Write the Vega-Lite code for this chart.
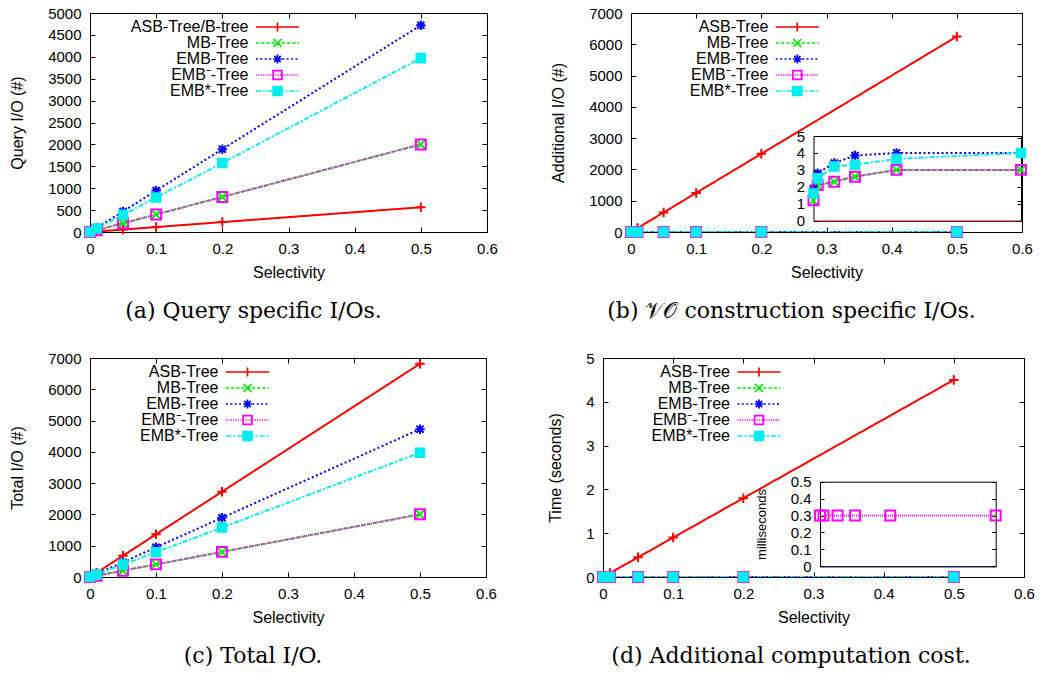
{
  "$schema": "https://vega.github.io/schema/vega-lite/v6.json",
  "padding": {"left": 9, "top": 5, "right": 5, "bottom": 5},
  "config": {
    "view": {"stroke": "black", "strokeWidth": 1},
    "axis": {"grid": false, "domainColor": "black", "tickColor": "black", "labelColor": "black", "titleColor": "black", "labelFont": "Liberation Sans", "labelFontSize": 15, "titleFont": "Liberation Sans", "titleFontSize": 16, "titleFontWeight": "normal", "tickSize": -5, "labelPadding": 14, "labelFlush": false, "labelOverlap": false},
    "title": {"font": "DejaVu Serif", "fontSize": 22, "fontWeight": "normal", "color": "black"},
    "point": {"opacity": 1}
  },
  "datasets": {
    "a": [
      {"s": "ASB-Tree/B-tree", "x": 0, "y": 1}, {"s": "ASB-Tree/B-tree", "x": 0.01, "y": 11}, {"s": "ASB-Tree/B-tree", "x": 0.05, "y": 56}, {"s": "ASB-Tree/B-tree", "x": 0.1, "y": 113}, {"s": "ASB-Tree/B-tree", "x": 0.2, "y": 226}, {"s": "ASB-Tree/B-tree", "x": 0.5, "y": 565},
      {"s": "MB-Tree", "x": 0, "y": 1}, {"s": "MB-Tree", "x": 0.01, "y": 40}, {"s": "MB-Tree", "x": 0.05, "y": 200}, {"s": "MB-Tree", "x": 0.1, "y": 400}, {"s": "MB-Tree", "x": 0.2, "y": 800}, {"s": "MB-Tree", "x": 0.5, "y": 2000},
      {"s": "EMB-Tree", "x": 0, "y": 2}, {"s": "EMB-Tree", "x": 0.01, "y": 95}, {"s": "EMB-Tree", "x": 0.05, "y": 470}, {"s": "EMB-Tree", "x": 0.1, "y": 945}, {"s": "EMB-Tree", "x": 0.2, "y": 1890}, {"s": "EMB-Tree", "x": 0.5, "y": 4720},
      {"s": "EMB⁻-Tree", "x": 0, "y": 1}, {"s": "EMB⁻-Tree", "x": 0.01, "y": 40}, {"s": "EMB⁻-Tree", "x": 0.05, "y": 200}, {"s": "EMB⁻-Tree", "x": 0.1, "y": 400}, {"s": "EMB⁻-Tree", "x": 0.2, "y": 800}, {"s": "EMB⁻-Tree", "x": 0.5, "y": 2000},
      {"s": "EMB*-Tree", "x": 0, "y": 2}, {"s": "EMB*-Tree", "x": 0.01, "y": 80}, {"s": "EMB*-Tree", "x": 0.05, "y": 395}, {"s": "EMB*-Tree", "x": 0.1, "y": 790}, {"s": "EMB*-Tree", "x": 0.2, "y": 1575}, {"s": "EMB*-Tree", "x": 0.5, "y": 3970}
    ],
    "b": [
      {"s": "ASB-Tree", "x": 0.01, "y": 125}, {"s": "ASB-Tree", "x": 0.05, "y": 625}, {"s": "ASB-Tree", "x": 0.1, "y": 1250}, {"s": "ASB-Tree", "x": 0.2, "y": 2500}, {"s": "ASB-Tree", "x": 0.5, "y": 6250},
      {"s": "MB-Tree", "x": 0, "y": 1.2}, {"s": "MB-Tree", "x": 0.01, "y": 2.1}, {"s": "MB-Tree", "x": 0.05, "y": 2.3}, {"s": "MB-Tree", "x": 0.1, "y": 2.6}, {"s": "MB-Tree", "x": 0.2, "y": 3}, {"s": "MB-Tree", "x": 0.5, "y": 3},
      {"s": "EMB-Tree", "x": 0, "y": 1.9}, {"s": "EMB-Tree", "x": 0.01, "y": 2.8}, {"s": "EMB-Tree", "x": 0.05, "y": 3.4}, {"s": "EMB-Tree", "x": 0.1, "y": 3.85}, {"s": "EMB-Tree", "x": 0.2, "y": 4}, {"s": "EMB-Tree", "x": 0.5, "y": 4},
      {"s": "EMB⁻-Tree", "x": 0, "y": 1.2}, {"s": "EMB⁻-Tree", "x": 0.01, "y": 2.1}, {"s": "EMB⁻-Tree", "x": 0.05, "y": 2.3}, {"s": "EMB⁻-Tree", "x": 0.1, "y": 2.6}, {"s": "EMB⁻-Tree", "x": 0.2, "y": 3}, {"s": "EMB⁻-Tree", "x": 0.5, "y": 3},
      {"s": "EMB*-Tree", "x": 0, "y": 1.6}, {"s": "EMB*-Tree", "x": 0.01, "y": 2.5}, {"s": "EMB*-Tree", "x": 0.05, "y": 3.2}, {"s": "EMB*-Tree", "x": 0.1, "y": 3.3}, {"s": "EMB*-Tree", "x": 0.2, "y": 3.65}, {"s": "EMB*-Tree", "x": 0.5, "y": 4}
    ],
    "c": [
      {"s": "ASB-Tree", "x": 0, "y": 1}, {"s": "ASB-Tree", "x": 0.01, "y": 136}, {"s": "ASB-Tree", "x": 0.05, "y": 681}, {"s": "ASB-Tree", "x": 0.1, "y": 1363}, {"s": "ASB-Tree", "x": 0.2, "y": 2726}, {"s": "ASB-Tree", "x": 0.5, "y": 6815},
      {"s": "MB-Tree", "x": 0, "y": 2}, {"s": "MB-Tree", "x": 0.01, "y": 42}, {"s": "MB-Tree", "x": 0.05, "y": 202}, {"s": "MB-Tree", "x": 0.1, "y": 403}, {"s": "MB-Tree", "x": 0.2, "y": 803}, {"s": "MB-Tree", "x": 0.5, "y": 2003},
      {"s": "EMB-Tree", "x": 0, "y": 4}, {"s": "EMB-Tree", "x": 0.01, "y": 98}, {"s": "EMB-Tree", "x": 0.05, "y": 473}, {"s": "EMB-Tree", "x": 0.1, "y": 949}, {"s": "EMB-Tree", "x": 0.2, "y": 1894}, {"s": "EMB-Tree", "x": 0.5, "y": 4724},
      {"s": "EMB⁻-Tree", "x": 0, "y": 2}, {"s": "EMB⁻-Tree", "x": 0.01, "y": 42}, {"s": "EMB⁻-Tree", "x": 0.05, "y": 202}, {"s": "EMB⁻-Tree", "x": 0.1, "y": 403}, {"s": "EMB⁻-Tree", "x": 0.2, "y": 803}, {"s": "EMB⁻-Tree", "x": 0.5, "y": 2003},
      {"s": "EMB*-Tree", "x": 0, "y": 4}, {"s": "EMB*-Tree", "x": 0.01, "y": 82}, {"s": "EMB*-Tree", "x": 0.05, "y": 398}, {"s": "EMB*-Tree", "x": 0.1, "y": 793}, {"s": "EMB*-Tree", "x": 0.2, "y": 1579}, {"s": "EMB*-Tree", "x": 0.5, "y": 3974}
    ],
    "d": [
      {"s": "ASB-Tree", "x": 0.01, "y": 0.09}, {"s": "ASB-Tree", "x": 0.05, "y": 0.45}, {"s": "ASB-Tree", "x": 0.1, "y": 0.9}, {"s": "ASB-Tree", "x": 0.2, "y": 1.8}, {"s": "ASB-Tree", "x": 0.5, "y": 4.5},
      {"s": "MB-Tree", "x": 0, "y": 0}, {"s": "MB-Tree", "x": 0.01, "y": 0}, {"s": "MB-Tree", "x": 0.05, "y": 0}, {"s": "MB-Tree", "x": 0.1, "y": 0}, {"s": "MB-Tree", "x": 0.2, "y": 0}, {"s": "MB-Tree", "x": 0.5, "y": 0},
      {"s": "EMB-Tree", "x": 0, "y": 0}, {"s": "EMB-Tree", "x": 0.01, "y": 0}, {"s": "EMB-Tree", "x": 0.05, "y": 0}, {"s": "EMB-Tree", "x": 0.1, "y": 0}, {"s": "EMB-Tree", "x": 0.2, "y": 0}, {"s": "EMB-Tree", "x": 0.5, "y": 0},
      {"s": "EMB⁻-Tree", "x": 0, "y": 0.0003}, {"s": "EMB⁻-Tree", "x": 0.01, "y": 0.0003}, {"s": "EMB⁻-Tree", "x": 0.05, "y": 0.0003}, {"s": "EMB⁻-Tree", "x": 0.1, "y": 0.0003}, {"s": "EMB⁻-Tree", "x": 0.2, "y": 0.0003}, {"s": "EMB⁻-Tree", "x": 0.5, "y": 0.0003},
      {"s": "EMB*-Tree", "x": 0, "y": 0}, {"s": "EMB*-Tree", "x": 0.01, "y": 0}, {"s": "EMB*-Tree", "x": 0.05, "y": 0}, {"s": "EMB*-Tree", "x": 0.1, "y": 0}, {"s": "EMB*-Tree", "x": 0.2, "y": 0}, {"s": "EMB*-Tree", "x": 0.5, "y": 0}
    ],
    "di": [
      {"s": "EMB⁻-Tree", "x": 0, "y": 0.3}, {"s": "EMB⁻-Tree", "x": 0.01, "y": 0.3}, {"s": "EMB⁻-Tree", "x": 0.05, "y": 0.3}, {"s": "EMB⁻-Tree", "x": 0.1, "y": 0.3}, {"s": "EMB⁻-Tree", "x": 0.2, "y": 0.3}, {"s": "EMB⁻-Tree", "x": 0.5, "y": 0.3}
    ]
  },
  "spacing": 27,
  "vconcat": [
    {
      "bounds": "flush",
      "spacing": 144,
      "hconcat": [
        {
          "width": 397, "height": 219,
          "title": {"text": "(a) Query specific I/Os.", "orient": "bottom", "frame": "bounds", "anchor": "middle", "offset": 21},
          "resolve": {"scale": {"color": "independent", "stroke": "independent", "fill": "independent", "shape": "independent", "strokeDash": "independent", "strokeWidth": "independent"}, "axis": {"x": "independent", "y": "independent"}},
          "layer": [
            {
              "data": {"name": "a"},
              "mark": {"type": "line", "clip": true},
              "encoding": {
                "x": {"field": "x", "type": "quantitative", "scale": {"domain": [0, 0.6]}, "axis": {"orient": "bottom", "values": [0, 0.1, 0.2, 0.3, 0.4, 0.5, 0.6], "format": "~g", "title": "Selectivity", "titlePadding": 8}},
                "y": {"field": "y", "type": "quantitative", "scale": {"domain": [0, 5000]}, "axis": {"orient": "left", "values": [0, 500, 1000, 1500, 2000, 2500, 3000, 3500, 4000, 4500, 5000], "format": "d", "title": "Query I/O (#)", "titlePadding": 22}},
                "color": {"field": "s", "type": "nominal", "scale": {"domain": ["ASB-Tree/B-tree", "MB-Tree", "EMB-Tree", "EMB⁻-Tree", "EMB*-Tree"], "range": ["#ff0000", "#00ee00", "#0000ff", "#ff00ff", "#00eeee"]}, "legend": null},
                "strokeDash": {"field": "s", "type": "nominal", "scale": {"domain": ["ASB-Tree/B-tree", "MB-Tree", "EMB-Tree", "EMB⁻-Tree", "EMB*-Tree"], "range": [[1, 0], [4, 2], [2, 2.5], [1, 1], [5, 2, 2, 2]]}, "legend": null},
                "strokeWidth": {"field": "s", "type": "nominal", "scale": {"domain": ["ASB-Tree/B-tree", "MB-Tree", "EMB-Tree", "EMB⁻-Tree", "EMB*-Tree"], "range": [2, 2, 2, 1.7, 1.7]}, "legend": null}
              }
            },
            {
              "data": {"name": "a"},
              "mark": {"type": "point", "filled": false, "size": 90, "strokeWidth": 2, "opacity": 1},
              "encoding": {
                "x": {"field": "x", "type": "quantitative", "scale": {"domain": [0, 0.6]}, "axis": {"orient": "top", "values": [0, 0.1, 0.2, 0.3, 0.4, 0.5, 0.6], "labels": false, "title": null}},
                "y": {"field": "y", "type": "quantitative", "scale": {"domain": [0, 5000]}, "axis": {"orient": "right", "values": [0, 500, 1000, 1500, 2000, 2500, 3000, 3500, 4000, 4500, 5000], "labels": false, "title": null}},
                "stroke": {"field": "s", "type": "nominal", "scale": {"domain": ["ASB-Tree/B-tree", "MB-Tree", "EMB-Tree", "EMB⁻-Tree", "EMB*-Tree"], "range": ["#ff0000", "#00ee00", "#0000ff", "#ff00ff", "#00eeee"]}, "legend": null},
                "fill": {"field": "s", "type": "nominal", "scale": {"domain": ["ASB-Tree/B-tree", "MB-Tree", "EMB-Tree", "EMB⁻-Tree", "EMB*-Tree"], "range": ["transparent", "transparent", "transparent", "transparent", "#00eeee"]}, "legend": null},
                "shape": {"field": "s", "type": "nominal", "scale": {"domain": ["ASB-Tree/B-tree", "MB-Tree", "EMB-Tree", "EMB⁻-Tree", "EMB*-Tree"], "range": ["M-1,0H1M0,-1V1", "M-0.9,-0.9L0.9,0.9M-0.9,0.9L0.9,-0.9", "M-1,0H1M0,-1V1M-0.75,-0.75L0.75,0.75M-0.75,0.75L0.75,-0.75", "M-1.05,-1.05H1.05V1.05H-1.05Z", "M-0.9,-0.9H0.9V0.9H-0.9Z"]}, "legend": null}
              }
            },
            {
              "data": {"name": "a"},
              "transform": [{"filter": "datum.x > 5"}],
              "mark": {"type": "point", "filled": false, "strokeWidth": 1.7, "opacity": 1},
              "encoding": {
                "stroke": {"field": "s", "type": "nominal", "scale": {"domain": ["ASB-Tree/B-tree", "MB-Tree", "EMB-Tree", "EMB⁻-Tree", "EMB*-Tree"], "range": ["#ff0000", "#00ee00", "#0000ff", "#ff00ff", "#00eeee"]}, "legend": {"title": null, "orient": "none", "legendX": 143.5, "legendY": 6, "labelAlign": "right", "labelOffset": -37, "symbolOffset": 36, "symbolSize": 64, "symbolStrokeWidth": 1.7, "labelFont": "Liberation Sans", "labelFontSize": 16, "labelColor": "black", "rowPadding": -1, "padding": 0, "labelLimit": 300}},
                "fill": {"field": "s", "type": "nominal", "scale": {"domain": ["ASB-Tree/B-tree", "MB-Tree", "EMB-Tree", "EMB⁻-Tree", "EMB*-Tree"], "range": ["transparent", "transparent", "transparent", "transparent", "#00eeee"]}, "legend": {"title": null, "orient": "none", "legendX": 143.5, "legendY": 6, "labelAlign": "right", "labelOffset": -37, "symbolOffset": 36, "symbolSize": 64, "symbolStrokeWidth": 1.7, "labelFont": "Liberation Sans", "labelFontSize": 16, "labelColor": "black", "rowPadding": -1, "padding": 0, "labelLimit": 300}},
                "shape": {"field": "s", "type": "nominal", "scale": {"domain": ["ASB-Tree/B-tree", "MB-Tree", "EMB-Tree", "EMB⁻-Tree", "EMB*-Tree"], "range": [
                  "M-5.4,0H5.4M0,-1.1V1.1",
                  "M-5.4,0H-4.6M-4.1,0H-3.3M-2.8,0H-2.0M-1.5,0H-0.7M-0.2,0H0.6M1.1,0H1.9M2.4,0H3.2M3.7,0H4.5M5.0,0H5.4M-1,-1L1,1M-1,1L1,-1",
                  "M-5.4,0H-4.9M-4.3,0H-3.8M-3.2,0H-2.7M-2.1,0H-1.6M-1.0,0H-0.5M0.1,0H0.6M1.2,0H1.7M2.3,0H2.8M3.4,0H3.9M4.5,0H5.0M-1.1,0H1.1M0,-1.1V1.1M-0.8,-0.8L0.8,0.8M-0.8,0.8L0.8,-0.8",
                  "M-5.4,0H-5.1M-4.8,0H-4.5M-4.2,0H-3.9M-3.6,0H-3.3M-3.0,0H-2.7M-2.4,0H-2.1M-1.8,0H-1.5M-1.2,0H-0.9M-0.6,0H-0.3M0,0H0.3M0.6,0H0.9M1.2,0H1.5M1.8,0H2.1M2.4,0H2.7M3.0,0H3.3M3.6,0H3.9M4.2,0H4.5M4.8,0H5.1M-1.1,-1.1H1.1V1.1H-1.1Z",
                  "M-5.4,0H-4.1M-3.6,0H-3.1M-2.6,0H-1.3M-0.8,0H-0.3M0.2,0H1.5M2.0,0H2.5M3.0,0H4.3M4.8,0H5.3M-1.1,-1.1H1.1V1.1H-1.1Z"
                ]}, "legend": {"title": null, "orient": "none", "legendX": 143.5, "legendY": 6, "labelAlign": "right", "labelOffset": -37, "symbolOffset": 36, "symbolSize": 64, "symbolStrokeWidth": 1.7, "labelFont": "Liberation Sans", "labelFontSize": 16, "labelColor": "black", "rowPadding": -1, "padding": 0, "labelLimit": 300}}
              }
            }
          ]
        },
        {
          "width": 391, "height": 219,
          "title": {"text": "(b) 𝒱𝒪 construction specific I/Os.", "orient": "bottom", "frame": "bounds", "anchor": "middle", "offset": 21},
          "resolve": {"scale": {"x": "independent", "y": "independent", "color": "independent", "stroke": "independent", "fill": "independent", "shape": "independent", "strokeDash": "independent", "strokeWidth": "independent"}},
          "layer": [
            {
              "resolve": {"scale": {"color": "independent", "stroke": "independent", "fill": "independent", "shape": "independent", "strokeDash": "independent", "strokeWidth": "independent"}, "axis": {"x": "independent", "y": "independent"}},
              "layer": [
                {
                  "data": {"name": "b"},
                  "mark": {"type": "line", "clip": true},
                  "encoding": {
                    "x": {"field": "x", "type": "quantitative", "scale": {"domain": [0, 0.6]}, "axis": {"orient": "bottom", "values": [0, 0.1, 0.2, 0.3, 0.4, 0.5, 0.6], "format": "~g", "title": "Selectivity", "titlePadding": 8}},
                    "y": {"field": "y", "type": "quantitative", "scale": {"domain": [0, 7000]}, "axis": {"orient": "left", "values": [0, 1000, 2000, 3000, 4000, 5000, 6000, 7000], "format": "d", "title": "Additional I/O (#)", "titlePadding": 22}},
                    "color": {"field": "s", "type": "nominal", "scale": {"domain": ["ASB-Tree", "MB-Tree", "EMB-Tree", "EMB⁻-Tree", "EMB*-Tree"], "range": ["#ff0000", "#00ee00", "#0000ff", "#ff00ff", "#00eeee"]}, "legend": null},
                    "strokeDash": {"field": "s", "type": "nominal", "scale": {"domain": ["ASB-Tree", "MB-Tree", "EMB-Tree", "EMB⁻-Tree", "EMB*-Tree"], "range": [[1, 0], [4, 2], [2, 2.5], [1, 1], [5, 2, 2, 2]]}, "legend": null},
                    "strokeWidth": {"field": "s", "type": "nominal", "scale": {"domain": ["ASB-Tree", "MB-Tree", "EMB-Tree", "EMB⁻-Tree", "EMB*-Tree"], "range": [2, 2, 2, 1.7, 1.7]}, "legend": null}
                  }
                },
                {
                  "data": {"name": "b"},
                  "mark": {"type": "point", "filled": false, "size": 90, "strokeWidth": 2, "opacity": 1},
                  "encoding": {
                    "x": {"field": "x", "type": "quantitative", "scale": {"domain": [0, 0.6]}, "axis": {"orient": "top", "values": [0, 0.1, 0.2, 0.3, 0.4, 0.5, 0.6], "labels": false, "title": null}},
                    "y": {"field": "y", "type": "quantitative", "scale": {"domain": [0, 7000]}, "axis": {"orient": "right", "values": [0, 1000, 2000, 3000, 4000, 5000, 6000, 7000], "labels": false, "title": null}},
                    "stroke": {"field": "s", "type": "nominal", "scale": {"domain": ["ASB-Tree", "MB-Tree", "EMB-Tree", "EMB⁻-Tree", "EMB*-Tree"], "range": ["#ff0000", "#00ee00", "#0000ff", "#ff00ff", "#00eeee"]}, "legend": null},
                    "fill": {"field": "s", "type": "nominal", "scale": {"domain": ["ASB-Tree", "MB-Tree", "EMB-Tree", "EMB⁻-Tree", "EMB*-Tree"], "range": ["transparent", "transparent", "transparent", "transparent", "#00eeee"]}, "legend": null},
                    "shape": {"field": "s", "type": "nominal", "scale": {"domain": ["ASB-Tree", "MB-Tree", "EMB-Tree", "EMB⁻-Tree", "EMB*-Tree"], "range": ["M-1,0H1M0,-1V1", "M-0.9,-0.9L0.9,0.9M-0.9,0.9L0.9,-0.9", "M-1,0H1M0,-1V1M-0.75,-0.75L0.75,0.75M-0.75,0.75L0.75,-0.75", "M-1.05,-1.05H1.05V1.05H-1.05Z", "M-0.9,-0.9H0.9V0.9H-0.9Z"]}, "legend": null}
                  }
                },
                {
                  "data": {"name": "b"},
                  "transform": [{"filter": "datum.x > 5"}],
                  "mark": {"type": "point", "filled": false, "strokeWidth": 1.7, "opacity": 1},
                  "encoding": {
                    "stroke": {"field": "s", "type": "nominal", "scale": {"domain": ["ASB-Tree", "MB-Tree", "EMB-Tree", "EMB⁻-Tree", "EMB*-Tree"], "range": ["#ff0000", "#00ee00", "#0000ff", "#ff00ff", "#00eeee"]}, "legend": {"title": null, "orient": "none", "legendX": 122.3, "legendY": 6, "labelAlign": "right", "labelOffset": -37, "symbolOffset": 36, "symbolSize": 64, "symbolStrokeWidth": 1.7, "labelFont": "Liberation Sans", "labelFontSize": 16, "labelColor": "black", "rowPadding": -1, "padding": 0, "labelLimit": 300}},
                    "fill": {"field": "s", "type": "nominal", "scale": {"domain": ["ASB-Tree", "MB-Tree", "EMB-Tree", "EMB⁻-Tree", "EMB*-Tree"], "range": ["transparent", "transparent", "transparent", "transparent", "#00eeee"]}, "legend": {"title": null, "orient": "none", "legendX": 122.3, "legendY": 6, "labelAlign": "right", "labelOffset": -37, "symbolOffset": 36, "symbolSize": 64, "symbolStrokeWidth": 1.7, "labelFont": "Liberation Sans", "labelFontSize": 16, "labelColor": "black", "rowPadding": -1, "padding": 0, "labelLimit": 300}},
                    "shape": {"field": "s", "type": "nominal", "scale": {"domain": ["ASB-Tree", "MB-Tree", "EMB-Tree", "EMB⁻-Tree", "EMB*-Tree"], "range": [
                      "M-5.4,0H5.4M0,-1.1V1.1",
                      "M-5.4,0H-4.6M-4.1,0H-3.3M-2.8,0H-2.0M-1.5,0H-0.7M-0.2,0H0.6M1.1,0H1.9M2.4,0H3.2M3.7,0H4.5M5.0,0H5.4M-1,-1L1,1M-1,1L1,-1",
                      "M-5.4,0H-4.9M-4.3,0H-3.8M-3.2,0H-2.7M-2.1,0H-1.6M-1.0,0H-0.5M0.1,0H0.6M1.2,0H1.7M2.3,0H2.8M3.4,0H3.9M4.5,0H5.0M-1.1,0H1.1M0,-1.1V1.1M-0.8,-0.8L0.8,0.8M-0.8,0.8L0.8,-0.8",
                      "M-5.4,0H-5.1M-4.8,0H-4.5M-4.2,0H-3.9M-3.6,0H-3.3M-3.0,0H-2.7M-2.4,0H-2.1M-1.8,0H-1.5M-1.2,0H-0.9M-0.6,0H-0.3M0,0H0.3M0.6,0H0.9M1.2,0H1.5M1.8,0H2.1M2.4,0H2.7M3.0,0H3.3M3.6,0H3.9M4.2,0H4.5M4.8,0H5.1M-1.1,-1.1H1.1V1.1H-1.1Z",
                      "M-5.4,0H-4.1M-3.6,0H-3.1M-2.6,0H-1.3M-0.8,0H-0.3M0.2,0H1.5M2.0,0H2.5M3.0,0H4.3M4.8,0H5.3M-1.1,-1.1H1.1V1.1H-1.1Z"
                    ]}, "legend": {"title": null, "orient": "none", "legendX": 122.3, "legendY": 6, "labelAlign": "right", "labelOffset": -37, "symbolOffset": 36, "symbolSize": 64, "symbolStrokeWidth": 1.7, "labelFont": "Liberation Sans", "labelFontSize": 16, "labelColor": "black", "rowPadding": -1, "padding": 0, "labelLimit": 300}}
                  }
                }
              ]
            },
            {
              "resolve": {"scale": {"color": "independent", "stroke": "independent", "fill": "independent", "shape": "independent", "strokeDash": "independent", "strokeWidth": "independent"}, "axis": {"x": "independent", "y": "independent"}},
              "layer": [
                {
                  "data": {"name": "b"},
                  "transform": [{"filter": "datum.s != 'ASB-Tree'"}],
                  "mark": {"type": "line"},
                  "encoding": {
                    "x": {"field": "x", "type": "quantitative", "scale": {"domain": [0, 0.5], "range": [182.5, 390]}, "axis": {"orient": "bottom", "offset": -11.3, "labels": false, "ticks": false, "title": null, "domainColor": "#801818", "domainWidth": 1.5}},
                    "y": {"field": "y", "type": "quantitative", "scale": {"domain": [0, 5], "range": [207.7, 123]}, "axis": {"orient": "left", "offset": -182.5, "values": [0, 1, 2, 3, 4, 5], "format": "d", "title": null, "tickSize": -4, "labelPadding": 13}},
                    "color": {"field": "s", "type": "nominal", "scale": {"domain": ["ASB-Tree", "MB-Tree", "EMB-Tree", "EMB⁻-Tree", "EMB*-Tree"], "range": ["#ff0000", "#00ee00", "#0000ff", "#ff00ff", "#00eeee"]}, "legend": null},
                    "strokeDash": {"field": "s", "type": "nominal", "scale": {"domain": ["ASB-Tree", "MB-Tree", "EMB-Tree", "EMB⁻-Tree", "EMB*-Tree"], "range": [[1, 0], [4, 2], [2, 2.5], [1, 1], [5, 2, 2, 2]]}, "legend": null},
                    "strokeWidth": {"field": "s", "type": "nominal", "scale": {"domain": ["ASB-Tree", "MB-Tree", "EMB-Tree", "EMB⁻-Tree", "EMB*-Tree"], "range": [2, 2, 2, 1.7, 1.7]}, "legend": null}
                  }
                },
                {
                  "data": {"name": "b"},
                  "transform": [{"filter": "datum.s != 'ASB-Tree'"}],
                  "mark": {"type": "point", "filled": false, "size": 90, "strokeWidth": 2, "opacity": 1},
                  "encoding": {
                    "x": {"field": "x", "type": "quantitative", "scale": {"domain": [0, 0.5], "range": [182.5, 390]}, "axis": {"orient": "top", "offset": -123, "labels": false, "ticks": false, "title": null}},
                    "y": {"field": "y", "type": "quantitative", "scale": {"domain": [0, 5], "range": [207.7, 123]}, "axis": {"orient": "right", "offset": -1, "values": [0, 1, 2, 3, 4, 5], "labels": false, "title": null, "tickSize": -4}},
                    "stroke": {"field": "s", "type": "nominal", "scale": {"domain": ["ASB-Tree", "MB-Tree", "EMB-Tree", "EMB⁻-Tree", "EMB*-Tree"], "range": ["#ff0000", "#00ee00", "#0000ff", "#ff00ff", "#00eeee"]}, "legend": null},
                    "fill": {"field": "s", "type": "nominal", "scale": {"domain": ["ASB-Tree", "MB-Tree", "EMB-Tree", "EMB⁻-Tree", "EMB*-Tree"], "range": ["transparent", "transparent", "transparent", "transparent", "#00eeee"]}, "legend": null},
                    "shape": {"field": "s", "type": "nominal", "scale": {"domain": ["ASB-Tree", "MB-Tree", "EMB-Tree", "EMB⁻-Tree", "EMB*-Tree"], "range": ["M-1,0H1M0,-1V1", "M-0.9,-0.9L0.9,0.9M-0.9,0.9L0.9,-0.9", "M-1,0H1M0,-1V1M-0.75,-0.75L0.75,0.75M-0.75,0.75L0.75,-0.75", "M-1.05,-1.05H1.05V1.05H-1.05Z", "M-0.9,-0.9H0.9V0.9H-0.9Z"]}, "legend": null}
                  }
                }
              ]
            }
          ]
        }
      ]
    },
    {
      "bounds": "flush",
      "spacing": 117,
      "hconcat": [
        {
          "width": 396, "height": 219,
          "title": {"text": "(c) Total I/O.", "orient": "bottom", "frame": "bounds", "anchor": "middle", "offset": 21},
          "resolve": {"scale": {"color": "independent", "stroke": "independent", "fill": "independent", "shape": "independent", "strokeDash": "independent", "strokeWidth": "independent"}, "axis": {"x": "independent", "y": "independent"}},
          "layer": [
            {
              "data": {"name": "c"},
              "mark": {"type": "line", "clip": true},
              "encoding": {
                "x": {"field": "x", "type": "quantitative", "scale": {"domain": [0, 0.6]}, "axis": {"orient": "bottom", "values": [0, 0.1, 0.2, 0.3, 0.4, 0.5, 0.6], "format": "~g", "title": "Selectivity", "titlePadding": 8}},
                "y": {"field": "y", "type": "quantitative", "scale": {"domain": [0, 7000]}, "axis": {"orient": "left", "values": [0, 1000, 2000, 3000, 4000, 5000, 6000, 7000], "format": "d", "title": "Total I/O (#)", "titlePadding": 22}},
                "color": {"field": "s", "type": "nominal", "scale": {"domain": ["ASB-Tree", "MB-Tree", "EMB-Tree", "EMB⁻-Tree", "EMB*-Tree"], "range": ["#ff0000", "#00ee00", "#0000ff", "#ff00ff", "#00eeee"]}, "legend": null},
                "strokeDash": {"field": "s", "type": "nominal", "scale": {"domain": ["ASB-Tree", "MB-Tree", "EMB-Tree", "EMB⁻-Tree", "EMB*-Tree"], "range": [[1, 0], [4, 2], [2, 2.5], [1, 1], [5, 2, 2, 2]]}, "legend": null},
                "strokeWidth": {"field": "s", "type": "nominal", "scale": {"domain": ["ASB-Tree", "MB-Tree", "EMB-Tree", "EMB⁻-Tree", "EMB*-Tree"], "range": [2, 2, 2, 1.7, 1.7]}, "legend": null}
              }
            },
            {
              "data": {"name": "c"},
              "mark": {"type": "point", "filled": false, "size": 90, "strokeWidth": 2, "opacity": 1},
              "encoding": {
                "x": {"field": "x", "type": "quantitative", "scale": {"domain": [0, 0.6]}, "axis": {"orient": "top", "values": [0, 0.1, 0.2, 0.3, 0.4, 0.5, 0.6], "labels": false, "title": null}},
                "y": {"field": "y", "type": "quantitative", "scale": {"domain": [0, 7000]}, "axis": {"orient": "right", "values": [0, 1000, 2000, 3000, 4000, 5000, 6000, 7000], "labels": false, "title": null}},
                "stroke": {"field": "s", "type": "nominal", "scale": {"domain": ["ASB-Tree", "MB-Tree", "EMB-Tree", "EMB⁻-Tree", "EMB*-Tree"], "range": ["#ff0000", "#00ee00", "#0000ff", "#ff00ff", "#00eeee"]}, "legend": null},
                "fill": {"field": "s", "type": "nominal", "scale": {"domain": ["ASB-Tree", "MB-Tree", "EMB-Tree", "EMB⁻-Tree", "EMB*-Tree"], "range": ["transparent", "transparent", "transparent", "transparent", "#00eeee"]}, "legend": null},
                "shape": {"field": "s", "type": "nominal", "scale": {"domain": ["ASB-Tree", "MB-Tree", "EMB-Tree", "EMB⁻-Tree", "EMB*-Tree"], "range": ["M-1,0H1M0,-1V1", "M-0.9,-0.9L0.9,0.9M-0.9,0.9L0.9,-0.9", "M-1,0H1M0,-1V1M-0.75,-0.75L0.75,0.75M-0.75,0.75L0.75,-0.75", "M-1.05,-1.05H1.05V1.05H-1.05Z", "M-0.9,-0.9H0.9V0.9H-0.9Z"]}, "legend": null}
              }
            },
            {
              "data": {"name": "c"},
              "transform": [{"filter": "datum.x > 5"}],
              "mark": {"type": "point", "filled": false, "strokeWidth": 1.7, "opacity": 1},
              "encoding": {
                "stroke": {"field": "s", "type": "nominal", "scale": {"domain": ["ASB-Tree", "MB-Tree", "EMB-Tree", "EMB⁻-Tree", "EMB*-Tree"], "range": ["#ff0000", "#00ee00", "#0000ff", "#ff00ff", "#00eeee"]}, "legend": {"title": null, "orient": "none", "legendX": 113.5, "legendY": 6, "labelAlign": "right", "labelOffset": -37, "symbolOffset": 36, "symbolSize": 64, "symbolStrokeWidth": 1.7, "labelFont": "Liberation Sans", "labelFontSize": 16, "labelColor": "black", "rowPadding": -1, "padding": 0, "labelLimit": 300}},
                "fill": {"field": "s", "type": "nominal", "scale": {"domain": ["ASB-Tree", "MB-Tree", "EMB-Tree", "EMB⁻-Tree", "EMB*-Tree"], "range": ["transparent", "transparent", "transparent", "transparent", "#00eeee"]}, "legend": {"title": null, "orient": "none", "legendX": 113.5, "legendY": 6, "labelAlign": "right", "labelOffset": -37, "symbolOffset": 36, "symbolSize": 64, "symbolStrokeWidth": 1.7, "labelFont": "Liberation Sans", "labelFontSize": 16, "labelColor": "black", "rowPadding": -1, "padding": 0, "labelLimit": 300}},
                "shape": {"field": "s", "type": "nominal", "scale": {"domain": ["ASB-Tree", "MB-Tree", "EMB-Tree", "EMB⁻-Tree", "EMB*-Tree"], "range": [
                  "M-5.4,0H5.4M0,-1.1V1.1",
                  "M-5.4,0H-4.6M-4.1,0H-3.3M-2.8,0H-2.0M-1.5,0H-0.7M-0.2,0H0.6M1.1,0H1.9M2.4,0H3.2M3.7,0H4.5M5.0,0H5.4M-1,-1L1,1M-1,1L1,-1",
                  "M-5.4,0H-4.9M-4.3,0H-3.8M-3.2,0H-2.7M-2.1,0H-1.6M-1.0,0H-0.5M0.1,0H0.6M1.2,0H1.7M2.3,0H2.8M3.4,0H3.9M4.5,0H5.0M-1.1,0H1.1M0,-1.1V1.1M-0.8,-0.8L0.8,0.8M-0.8,0.8L0.8,-0.8",
                  "M-5.4,0H-5.1M-4.8,0H-4.5M-4.2,0H-3.9M-3.6,0H-3.3M-3.0,0H-2.7M-2.4,0H-2.1M-1.8,0H-1.5M-1.2,0H-0.9M-0.6,0H-0.3M0,0H0.3M0.6,0H0.9M1.2,0H1.5M1.8,0H2.1M2.4,0H2.7M3.0,0H3.3M3.6,0H3.9M4.2,0H4.5M4.8,0H5.1M-1.1,-1.1H1.1V1.1H-1.1Z",
                  "M-5.4,0H-4.1M-3.6,0H-3.1M-2.6,0H-1.3M-0.8,0H-0.3M0.2,0H1.5M2.0,0H2.5M3.0,0H4.3M4.8,0H5.3M-1.1,-1.1H1.1V1.1H-1.1Z"
                ]}, "legend": {"title": null, "orient": "none", "legendX": 113.5, "legendY": 6, "labelAlign": "right", "labelOffset": -37, "symbolOffset": 36, "symbolSize": 64, "symbolStrokeWidth": 1.7, "labelFont": "Liberation Sans", "labelFontSize": 16, "labelColor": "black", "rowPadding": -1, "padding": 0, "labelLimit": 300}}
              }
            }
          ]
        },
        {
          "width": 421, "height": 219,
          "title": {"text": "(d) Additional computation cost.", "orient": "bottom", "frame": "bounds", "anchor": "middle", "offset": 21},
          "resolve": {"scale": {"x": "independent", "y": "independent", "color": "independent", "stroke": "independent", "fill": "independent", "shape": "independent", "strokeDash": "independent", "strokeWidth": "independent"}},
          "layer": [
            {
              "resolve": {"scale": {"color": "independent", "stroke": "independent", "fill": "independent", "shape": "independent", "strokeDash": "independent", "strokeWidth": "independent"}, "axis": {"x": "independent", "y": "independent"}},
              "layer": [
                {
                  "data": {"name": "d"},
                  "mark": {"type": "line", "clip": true},
                  "encoding": {
                    "x": {"field": "x", "type": "quantitative", "scale": {"domain": [0, 0.6]}, "axis": {"orient": "bottom", "values": [0, 0.1, 0.2, 0.3, 0.4, 0.5, 0.6], "format": "~g", "title": "Selectivity", "titlePadding": 8}},
                    "y": {"field": "y", "type": "quantitative", "scale": {"domain": [0, 5]}, "axis": {"orient": "left", "values": [0, 1, 2, 3, 4, 5], "format": "d", "title": "Time (seconds)", "titlePadding": 22}},
                    "color": {"field": "s", "type": "nominal", "scale": {"domain": ["ASB-Tree", "MB-Tree", "EMB-Tree", "EMB⁻-Tree", "EMB*-Tree"], "range": ["#ff0000", "#00ee00", "#0000ff", "#ff00ff", "#00eeee"]}, "legend": null},
                    "strokeDash": {"field": "s", "type": "nominal", "scale": {"domain": ["ASB-Tree", "MB-Tree", "EMB-Tree", "EMB⁻-Tree", "EMB*-Tree"], "range": [[1, 0], [4, 2], [2, 2.5], [1, 1], [5, 2, 2, 2]]}, "legend": null},
                    "strokeWidth": {"field": "s", "type": "nominal", "scale": {"domain": ["ASB-Tree", "MB-Tree", "EMB-Tree", "EMB⁻-Tree", "EMB*-Tree"], "range": [2, 2, 2, 1.7, 1.7]}, "legend": null}
                  }
                },
                {
                  "data": {"name": "d"},
                  "mark": {"type": "point", "filled": false, "size": 90, "strokeWidth": 2, "opacity": 1},
                  "encoding": {
                    "x": {"field": "x", "type": "quantitative", "scale": {"domain": [0, 0.6]}, "axis": {"orient": "top", "values": [0, 0.1, 0.2, 0.3, 0.4, 0.5, 0.6], "labels": false, "title": null}},
                    "y": {"field": "y", "type": "quantitative", "scale": {"domain": [0, 5]}, "axis": {"orient": "right", "values": [0, 1, 2, 3, 4, 5], "labels": false, "title": null}},
                    "stroke": {"field": "s", "type": "nominal", "scale": {"domain": ["ASB-Tree", "MB-Tree", "EMB-Tree", "EMB⁻-Tree", "EMB*-Tree"], "range": ["#ff0000", "#00ee00", "#0000ff", "#ff00ff", "#00eeee"]}, "legend": null},
                    "fill": {"field": "s", "type": "nominal", "scale": {"domain": ["ASB-Tree", "MB-Tree", "EMB-Tree", "EMB⁻-Tree", "EMB*-Tree"], "range": ["transparent", "transparent", "transparent", "transparent", "#00eeee"]}, "legend": null},
                    "shape": {"field": "s", "type": "nominal", "scale": {"domain": ["ASB-Tree", "MB-Tree", "EMB-Tree", "EMB⁻-Tree", "EMB*-Tree"], "range": ["M-1,0H1M0,-1V1", "M-0.9,-0.9L0.9,0.9M-0.9,0.9L0.9,-0.9", "M-1,0H1M0,-1V1M-0.75,-0.75L0.75,0.75M-0.75,0.75L0.75,-0.75", "M-1.05,-1.05H1.05V1.05H-1.05Z", "M-0.9,-0.9H0.9V0.9H-0.9Z"]}, "legend": null}
                  }
                },
                {
                  "data": {"name": "d"},
                  "transform": [{"filter": "datum.x > 5"}],
                  "mark": {"type": "point", "filled": false, "strokeWidth": 1.7, "opacity": 1},
                  "encoding": {
                    "stroke": {"field": "s", "type": "nominal", "scale": {"domain": ["ASB-Tree", "MB-Tree", "EMB-Tree", "EMB⁻-Tree", "EMB*-Tree"], "range": ["#ff0000", "#00ee00", "#0000ff", "#ff00ff", "#00eeee"]}, "legend": {"title": null, "orient": "none", "legendX": 112, "legendY": 6, "labelAlign": "right", "labelOffset": -37, "symbolOffset": 36, "symbolSize": 64, "symbolStrokeWidth": 1.7, "labelFont": "Liberation Sans", "labelFontSize": 16, "labelColor": "black", "rowPadding": -1, "padding": 0, "labelLimit": 300}},
                    "fill": {"field": "s", "type": "nominal", "scale": {"domain": ["ASB-Tree", "MB-Tree", "EMB-Tree", "EMB⁻-Tree", "EMB*-Tree"], "range": ["transparent", "transparent", "transparent", "transparent", "#00eeee"]}, "legend": {"title": null, "orient": "none", "legendX": 112, "legendY": 6, "labelAlign": "right", "labelOffset": -37, "symbolOffset": 36, "symbolSize": 64, "symbolStrokeWidth": 1.7, "labelFont": "Liberation Sans", "labelFontSize": 16, "labelColor": "black", "rowPadding": -1, "padding": 0, "labelLimit": 300}},
                    "shape": {"field": "s", "type": "nominal", "scale": {"domain": ["ASB-Tree", "MB-Tree", "EMB-Tree", "EMB⁻-Tree", "EMB*-Tree"], "range": [
                      "M-5.4,0H5.4M0,-1.1V1.1",
                      "M-5.4,0H-4.6M-4.1,0H-3.3M-2.8,0H-2.0M-1.5,0H-0.7M-0.2,0H0.6M1.1,0H1.9M2.4,0H3.2M3.7,0H4.5M5.0,0H5.4M-1,-1L1,1M-1,1L1,-1",
                      "M-5.4,0H-4.9M-4.3,0H-3.8M-3.2,0H-2.7M-2.1,0H-1.6M-1.0,0H-0.5M0.1,0H0.6M1.2,0H1.7M2.3,0H2.8M3.4,0H3.9M4.5,0H5.0M-1.1,0H1.1M0,-1.1V1.1M-0.8,-0.8L0.8,0.8M-0.8,0.8L0.8,-0.8",
                      "M-5.4,0H-5.1M-4.8,0H-4.5M-4.2,0H-3.9M-3.6,0H-3.3M-3.0,0H-2.7M-2.4,0H-2.1M-1.8,0H-1.5M-1.2,0H-0.9M-0.6,0H-0.3M0,0H0.3M0.6,0H0.9M1.2,0H1.5M1.8,0H2.1M2.4,0H2.7M3.0,0H3.3M3.6,0H3.9M4.2,0H4.5M4.8,0H5.1M-1.1,-1.1H1.1V1.1H-1.1Z",
                      "M-5.4,0H-4.1M-3.6,0H-3.1M-2.6,0H-1.3M-0.8,0H-0.3M0.2,0H1.5M2.0,0H2.5M3.0,0H4.3M4.8,0H5.3M-1.1,-1.1H1.1V1.1H-1.1Z"
                    ]}, "legend": {"title": null, "orient": "none", "legendX": 112, "legendY": 6, "labelAlign": "right", "labelOffset": -37, "symbolOffset": 36, "symbolSize": 64, "symbolStrokeWidth": 1.7, "labelFont": "Liberation Sans", "labelFontSize": 16, "labelColor": "black", "rowPadding": -1, "padding": 0, "labelLimit": 300}}
                  }
                }
              ]
            },
            {
              "resolve": {"scale": {"color": "independent", "stroke": "independent", "fill": "independent", "shape": "independent", "strokeDash": "independent", "strokeWidth": "independent"}, "axis": {"x": "independent", "y": "independent"}},
              "layer": [
                {
                  "data": {"name": "di"},
                  "mark": {"type": "line", "strokeWidth": 1.7, "color": "#ff00ff", "strokeDash": [1, 1]},
                  "encoding": {
                    "x": {"field": "x", "type": "quantitative", "scale": {"domain": [0, 0.5], "range": [217, 392.7]}, "axis": {"orient": "bottom", "offset": -10.7, "labels": false, "ticks": false, "title": null, "domainColor": "#1c1c5c", "domainWidth": 1.5}},
                    "y": {"field": "y", "type": "quantitative", "scale": {"domain": [0, 0.5], "range": [208.3, 123.7]}, "axis": {"orient": "left", "offset": -217, "values": [0, 0.1, 0.2, 0.3, 0.4, 0.5], "format": "~g", "title": "milliseconds", "titleFontSize": 13, "titlePadding": 22, "tickSize": -4, "labelPadding": 13}}
                  }
                },
                {
                  "data": {"name": "di"},
                  "mark": {"type": "point", "filled": false, "size": 90, "strokeWidth": 2, "opacity": 1, "color": "#ff00ff", "shape": "M-1.05,-1.05H1.05V1.05H-1.05Z"},
                  "encoding": {
                    "x": {"field": "x", "type": "quantitative", "scale": {"domain": [0, 0.5], "range": [217, 392.7]}, "axis": {"orient": "top", "offset": -123.7, "labels": false, "ticks": false, "title": null}},
                    "y": {"field": "y", "type": "quantitative", "scale": {"domain": [0, 0.5], "range": [208.3, 123.7]}, "axis": {"orient": "right", "offset": -28.3, "values": [0, 0.1, 0.2, 0.3, 0.4, 0.5], "labels": false, "title": null, "tickSize": -4}}
                  }
                }
              ]
            }
          ]
        }
      ]
    }
  ]
}
